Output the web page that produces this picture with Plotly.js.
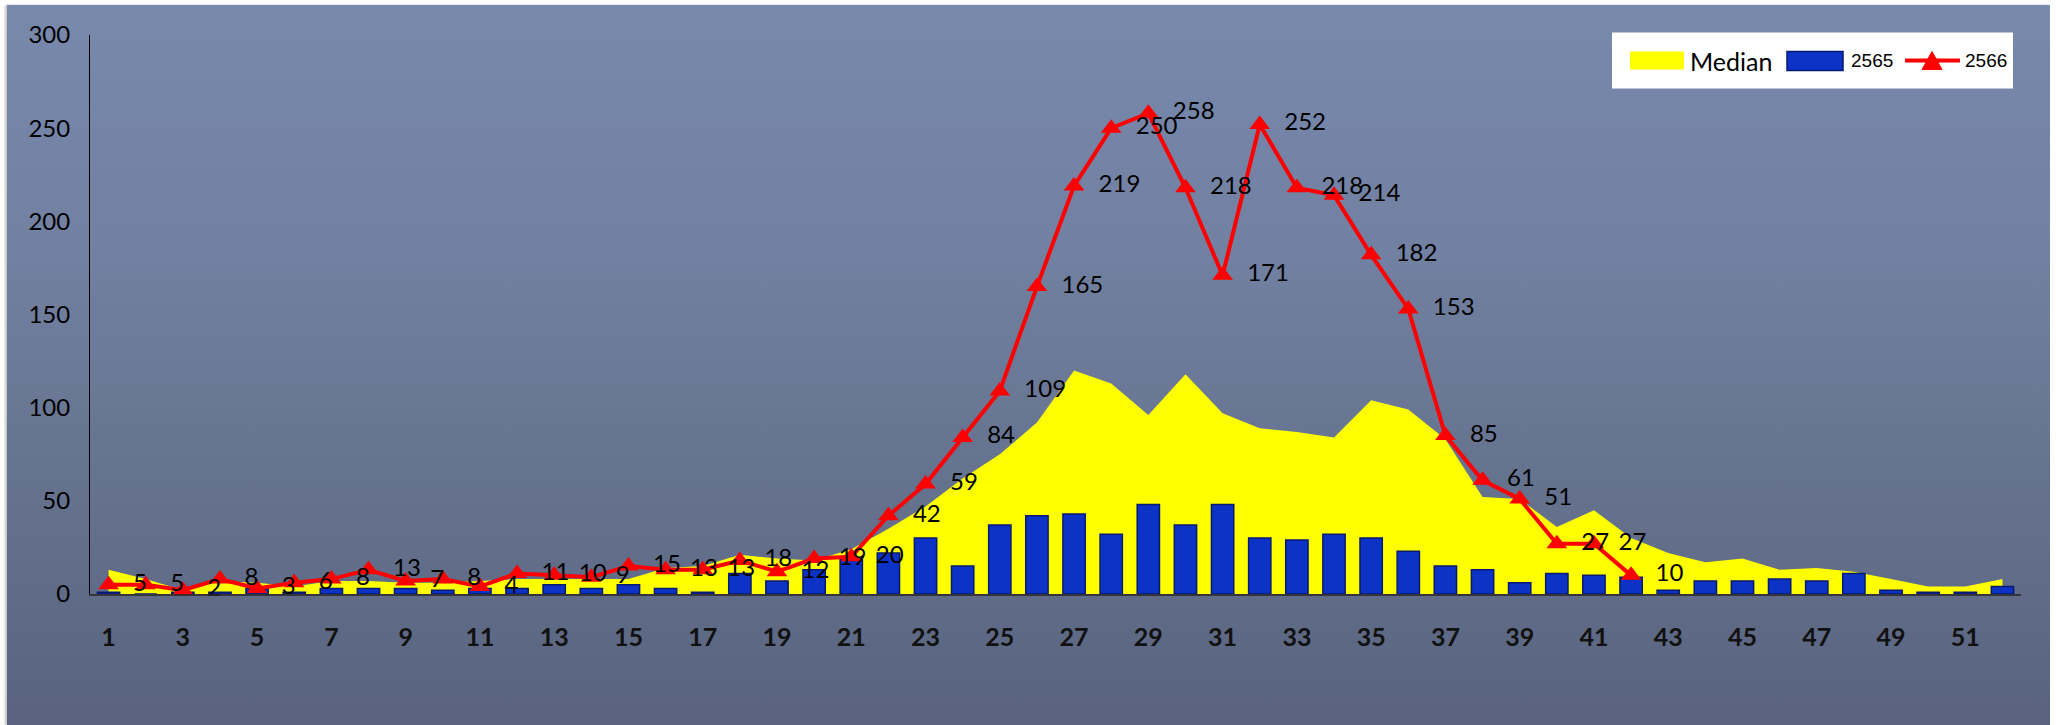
<!DOCTYPE html>
<html>
<head>
<meta charset="utf-8">
<script src="https://cdn.plot.ly/plotly-3.0.1.min.js"></script>
<style>
  html, body { margin: 0; padding: 0; background: #ffffff; }
  #wrap { position: relative; width: 2056px; height: 725px; overflow: hidden; background: #ffffff; }
  #bg { position: absolute; left: 7px; top: 5px; width: 2043px; height: 720px;
        background: linear-gradient(to bottom, #7889ac 0%, #7280a1 35%, #66738f 65%, #59637f 100%);
        box-shadow: -2px 0 2px rgba(180,180,180,0.8); }
  #chart { position: absolute; left: 0; top: 0; width: 2056px; height: 725px; }
</style>
</head>
<body>
<div id="wrap">
  <div id="bg"></div>
  <div id="chart"></div>
</div>
<script>
// Week numbers (x categories)
const weeks = [1,2,3,4,5,6,7,8,9,10,11,12,13,14,15,16,17,18,19,20,21,22,23,24,25,26,
               27,28,29,30,31,32,33,34,35,36,37,38,39,40,41,42,43,44,45,46,47,48,49,50,51,52];

// Median (yellow area)
const median = [13,8,2,7,6,4,7,7,6,6,7,8,8,8,8,14,15,21,19,18,24,35,47,62,75,92,
                120,113,96,118,97,89,87,84,104,99,83,52,51,36,45,30,22,17,19,13,14,12,8,4,4,8];

// Year 2565 (blue bars)
const y2565 = [1,0,1,1,3,1,3,3,3,2,3,3,5,3,5,3,1,11,7,13,19,22,30,15,37,42,
               43,32,48,37,48,30,29,32,30,23,15,13,6,11,10,9,2,7,7,8,7,11,2,1,1,4];

// Year 2566 (red line, weeks 1-42)
const weeks2566 = [1,2,3,4,5,6,7,8,9,10,11,12,13,14,15,16,17,18,19,20,21,
                   22,23,24,25,26,27,28,29,30,31,32,33,34,35,36,37,38,39,40,41,42];
const y2566 = [5,5,2,8,3,6,8,13,7,8,4,11,10,9,15,13,13,18,12,19,20,
               42,59,84,109,165,219,250,258,218,171,252,218,214,182,153,85,61,51,27,27,10];

// Series names
const seriesNames = ['Median', '2565', '2566'];

const FONT = 'Lato, "Open Sans", sans-serif';
const NARROW = '"Liberation Sans Narrow", "Liberation Sans", Arial, sans-serif';
const YELLOW = '#ffff00', BLUE = '#0d33c6', BLUE_EDGE = '#061a72', RED = '#ff0000';

const traces = [
  {
    type: 'scatter', x: weeks, y: median, name: seriesNames[0],
    mode: 'none', fill: 'tozeroy', fillcolor: YELLOW,
    xaxis: 'x', yaxis: 'y'
  },
  {
    type: 'bar', x: weeks, y: y2565, name: seriesNames[1],
    width: 0.6,
    marker: { color: BLUE, line: { color: BLUE_EDGE, width: 1.5 } },
    xaxis: 'x2', yaxis: 'y2'
  },
  {
    type: 'scatter', x: weeks2566, y: y2566, name: seriesNames[2],
    mode: 'lines+markers+text',
    line: { color: RED, width: 4 },
    marker: { symbol: 'triangle-up', size: 18, color: RED },
    texttemplate: '  %{y}',
    textposition: 'middle right',
    textfont: { family: FONT, size: 24, color: '#000000' },
    cliponaxis: false,
    xaxis: 'x2', yaxis: 'y2'
  }
];

// Plot-area geometry (pixels) used to place the hand-drawn legend in paper coordinates
const PL = 90, PW = 1931, PB = 594, PH = 558.5;
const px = v => (v - PL) / PW;
const py = v => (PB - v) / PH;

// Legend box and entries (positions in pixels of the page)
const legendShapes = [
  { type: 'rect', xref: 'paper', yref: 'paper', layer: 'above',
    x0: px(1612), x1: px(2013), y0: py(89), y1: py(33),
    fillcolor: '#ffffff', line: { width: 0 } },
  { type: 'rect', xref: 'paper', yref: 'paper', layer: 'above',
    x0: px(1630), x1: px(1684), y0: py(70), y1: py(52),
    fillcolor: YELLOW, line: { width: 0 } },
  { type: 'rect', xref: 'paper', yref: 'paper', layer: 'above',
    x0: px(1787), x1: px(1843), y0: py(71), y1: py(52),
    fillcolor: BLUE, line: { color: BLUE_EDGE, width: 1.5 } },
  { type: 'line', xref: 'paper', yref: 'paper', layer: 'above',
    x0: px(1905), x1: px(1960), y0: py(61), y1: py(61),
    line: { color: RED, width: 4 } },
  { type: 'path', xref: 'paper', yref: 'paper', layer: 'above',
    path: 'M ' + px(1922) + ' ' + py(70) + ' L ' + px(1942) + ' ' + py(70) +
          ' L ' + px(1932) + ' ' + py(52) + ' Z',
    fillcolor: RED, line: { color: RED, width: 1 } }
];

const legendTexts = [
  { text: seriesNames[0], x: px(1688), y: py(61), font: { family: FONT, size: 25, color: '#000' } },
  { text: seriesNames[1], x: px(1849), y: py(61), font: { family: NARROW, size: 19, color: '#000' } },
  { text: seriesNames[2], x: px(1963), y: py(61), font: { family: NARROW, size: 19, color: '#000' } }
].map(a => Object.assign({ xref: 'paper', yref: 'paper', xanchor: 'left', yanchor: 'middle',
                            showarrow: false }, a));

const xCommon = { range: [0.5, 52.5], showgrid: false, zeroline: false };
const yCommon = { range: [0, 300], showgrid: false, zeroline: false };

const layout = {
  width: 2056, height: 725,
  margin: { l: PL, r: 2056 - PL - PW, t: 35, b: 725 - PB },
  paper_bgcolor: 'rgba(0,0,0,0)',
  plot_bgcolor: 'rgba(0,0,0,0)',
  font: { family: FONT, size: 22, color: '#000000' },
  showlegend: false,
  xaxis: Object.assign({}, xCommon, {
    tick0: 1, dtick: 2,
    ticks: 'outside', ticklen: 20, tickcolor: 'rgba(0,0,0,0)',
    showline: true, linecolor: 'rgba(40,40,40,0.8)', linewidth: 1.5,
    tickfont: { family: FONT, size: 25, weight: 'bold', color: '#111111' }
  }),
  yaxis: Object.assign({}, yCommon, {
    dtick: 50, ticks: '',
    showline: true, linecolor: '#000000', linewidth: 1,
    tickfont: { family: FONT, size: 24, color: '#000000' },
    ticklabelstandoff: 14
  }),
  xaxis2: Object.assign({}, xCommon, { overlaying: 'x', matches: 'x', visible: false }),
  yaxis2: Object.assign({}, yCommon, { overlaying: 'y', matches: 'y', visible: false }),
  shapes: legendShapes,
  annotations: legendTexts
};

Plotly.newPlot('chart', traces, layout, { displayModeBar: false, staticPlot: true });
</script>
</body>
</html>
